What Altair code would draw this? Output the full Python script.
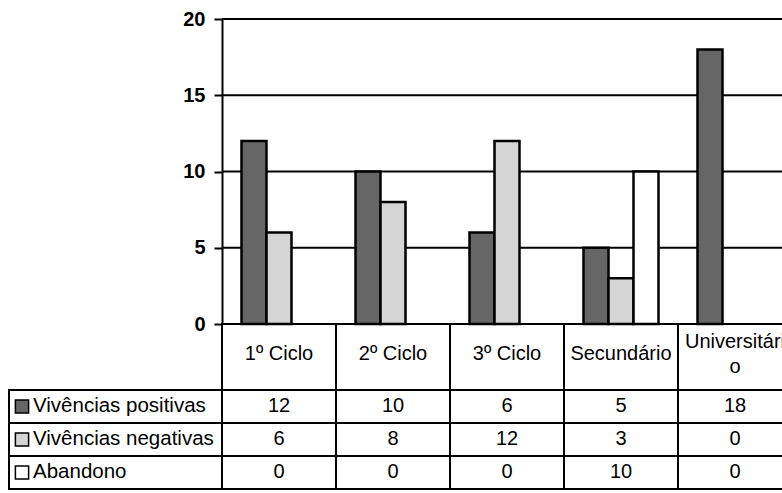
import altair as alt
import pandas as pd

# --- data -----------------------------------------------------------------
categories = ["1º Ciclo", "2º Ciclo", "3º Ciclo", "Secundário", "Universitário"]
header_labels = ["1º Ciclo", "2º Ciclo", "3º Ciclo", "Secundário", "Universitári\no"]
series_names = ["Vivências positivas", "Vivências negativas", "Abandono"]
positivas = [12, 10, 6, 5, 18]
negativas = [6, 8, 12, 3, 0]
abandono = [0, 0, 0, 10, 0]
y_ticks = [0, 5, 10, 15, 20]
grid_values = [5, 10, 15, 20]

# --- styling / layout -----------------------------------------------------
FONT = "Liberation Sans"
fills = ["#666666", "#d5d5d5", "#ffffff"]
W, H = 782, 493
LEGEND_LEFT = 9
PLOT_LEFT = 222
PLOT_TOP = 19
BASELINE = 324
TABLE_BOTTOM = 489
BAND_STEP = 114
LINE_HEIGHT = 25

# long table: one row per (series, category)
records = []
for i, (name, vals) in enumerate(zip(series_names, [positivas, negativas, abandono])):
    for cat, v in zip(categories, vals):
        records.append({"categoria": cat, "serie": name, "valor": v,
                        "topo": 2 + i, "base": 3 + i, "meio": 2.5 + i})
df = pd.DataFrame(records)

header_df = pd.DataFrame({"categoria": categories, "rotulo": header_labels,
                          "topo": 0, "base": 2, "meio": 1})
header_df["linhas"] = header_df["rotulo"].str.count("\n") + 1
legend_df = pd.DataFrame({"serie": series_names,
                          "topo": [2 + i for i in range(len(series_names))],
                          "base": [3 + i for i in range(len(series_names))],
                          "meio": [2.5 + i for i in range(len(series_names))]})

x_scale = alt.Scale(domain=categories, range=[PLOT_LEFT, PLOT_LEFT + len(categories) * BAND_STEP],
                    paddingInner=0, paddingOuter=0)
y_bar = alt.Scale(domain=[0, 20], range=[BASELINE, PLOT_TOP], nice=False)
y_tab = alt.Scale(domain=[0, 5], range=[BASELINE, TABLE_BOTTOM], nice=False)
fill_scale = alt.Scale(domain=series_names, range=fills)

# horizontal grid lines
grid = alt.Chart(pd.DataFrame({"v": grid_values})).mark_rule(
    color="black", strokeWidth=2
).encode(
    y=alt.Y("v:Q", scale=y_bar, axis=None),
    x=alt.value(PLOT_LEFT),
    x2=alt.value(W),
)

# grouped bars
bars = alt.Chart(df[df["valor"] > 0]).mark_bar(
    stroke="black", strokeWidth=2.5
).encode(
    x=alt.X("categoria:N", scale=x_scale, sort=categories, axis=None),
    xOffset=alt.XOffset("serie:N", sort=series_names,
                        scale=alt.Scale(domain=series_names, paddingInner=0, paddingOuter=0.78)),
    y=alt.Y("valor:Q", scale=y_bar,
            axis=alt.Axis(values=y_ticks, orient="left", offset=-PLOT_LEFT, title=None,
                          grid=False, labelFont=FONT, labelFontWeight="bold",
                          labelFontSize=20, labelColor="black", labelPadding=9,
                          tickColor="black", tickWidth=2, tickSize=8,
                          domainColor="black", domainWidth=2)),
    fill=alt.Fill("serie:N", scale=fill_scale, legend=None),
)

# data table: header cells, value cells and legend cells
header_cells = alt.Chart(header_df).mark_rect(
    fill="transparent", stroke="black", strokeWidth=2
).encode(
    x=alt.X("categoria:N", scale=x_scale, sort=categories, axis=None),
    y=alt.Y("topo:Q", scale=y_tab, axis=None),
    y2="base:Q",
)

value_cells = alt.Chart(df).mark_rect(
    fill="transparent", stroke="black", strokeWidth=2
).encode(
    x=alt.X("categoria:N", scale=x_scale, sort=categories, axis=None),
    y=alt.Y("topo:Q", scale=y_tab, axis=None),
    y2="base:Q",
)

legend_cells = alt.Chart(legend_df).mark_rect(
    fill="transparent", stroke="black", strokeWidth=2
).encode(
    x=alt.value(LEGEND_LEFT),
    x2=alt.value(PLOT_LEFT),
    y=alt.Y("topo:Q", scale=y_tab, axis=None),
    y2="base:Q",
)


def header_layer(data, n_lines):
    # lift multi-line labels so the whole block sits centred in the cell
    return alt.Chart(data).mark_text(
        font=FONT, fontSize=20, color="black", baseline="middle", align="center",
        lineBreak="\n", lineHeight=LINE_HEIGHT, dy=-(n_lines - 1) * LINE_HEIGHT / 2 - 3
    ).encode(
        x=alt.X("categoria:N", scale=x_scale, sort=categories, axis=None),
        y=alt.Y("meio:Q", scale=y_tab, axis=None),
        text="rotulo:N",
    )


header_single = header_layer(header_df[header_df["linhas"] == 1], 1)
header_multi = header_layer(header_df[header_df["linhas"] == 2], 2)

value_text = alt.Chart(df).mark_text(
    font=FONT, fontSize=20, color="black", baseline="middle", align="center", dy=-1
).encode(
    x=alt.X("categoria:N", scale=x_scale, sort=categories, axis=None),
    y=alt.Y("meio:Q", scale=y_tab, axis=None),
    text="valor:Q",
)

legend_swatch = alt.Chart(legend_df).mark_square(
    size=175, stroke="black", strokeWidth=1.5, opacity=1
).encode(
    x=alt.value(22),
    y=alt.Y("meio:Q", scale=y_tab, axis=None),
    fill=alt.Fill("serie:N", scale=fill_scale, legend=None),
)

legend_text = alt.Chart(legend_df).mark_text(
    font=FONT, fontSize=20.5, color="black", baseline="middle", align="left", dy=-1
).encode(
    x=alt.value(33),
    y=alt.Y("meio:Q", scale=y_tab, axis=None),
    text="serie:N",
)

chart = alt.layer(
    grid, bars, header_cells, value_cells, legend_cells,
    header_single, header_multi, value_text, legend_swatch, legend_text,
).resolve_scale(
    y="independent"
).properties(
    width=W, height=H,
    autosize=alt.AutoSizeParams(type="none"),
    padding=0,
    background="white",
).configure_view(
    strokeWidth=0
)

chart.save("out.html", embed_options={"renderer": "svg", "actions": False})
